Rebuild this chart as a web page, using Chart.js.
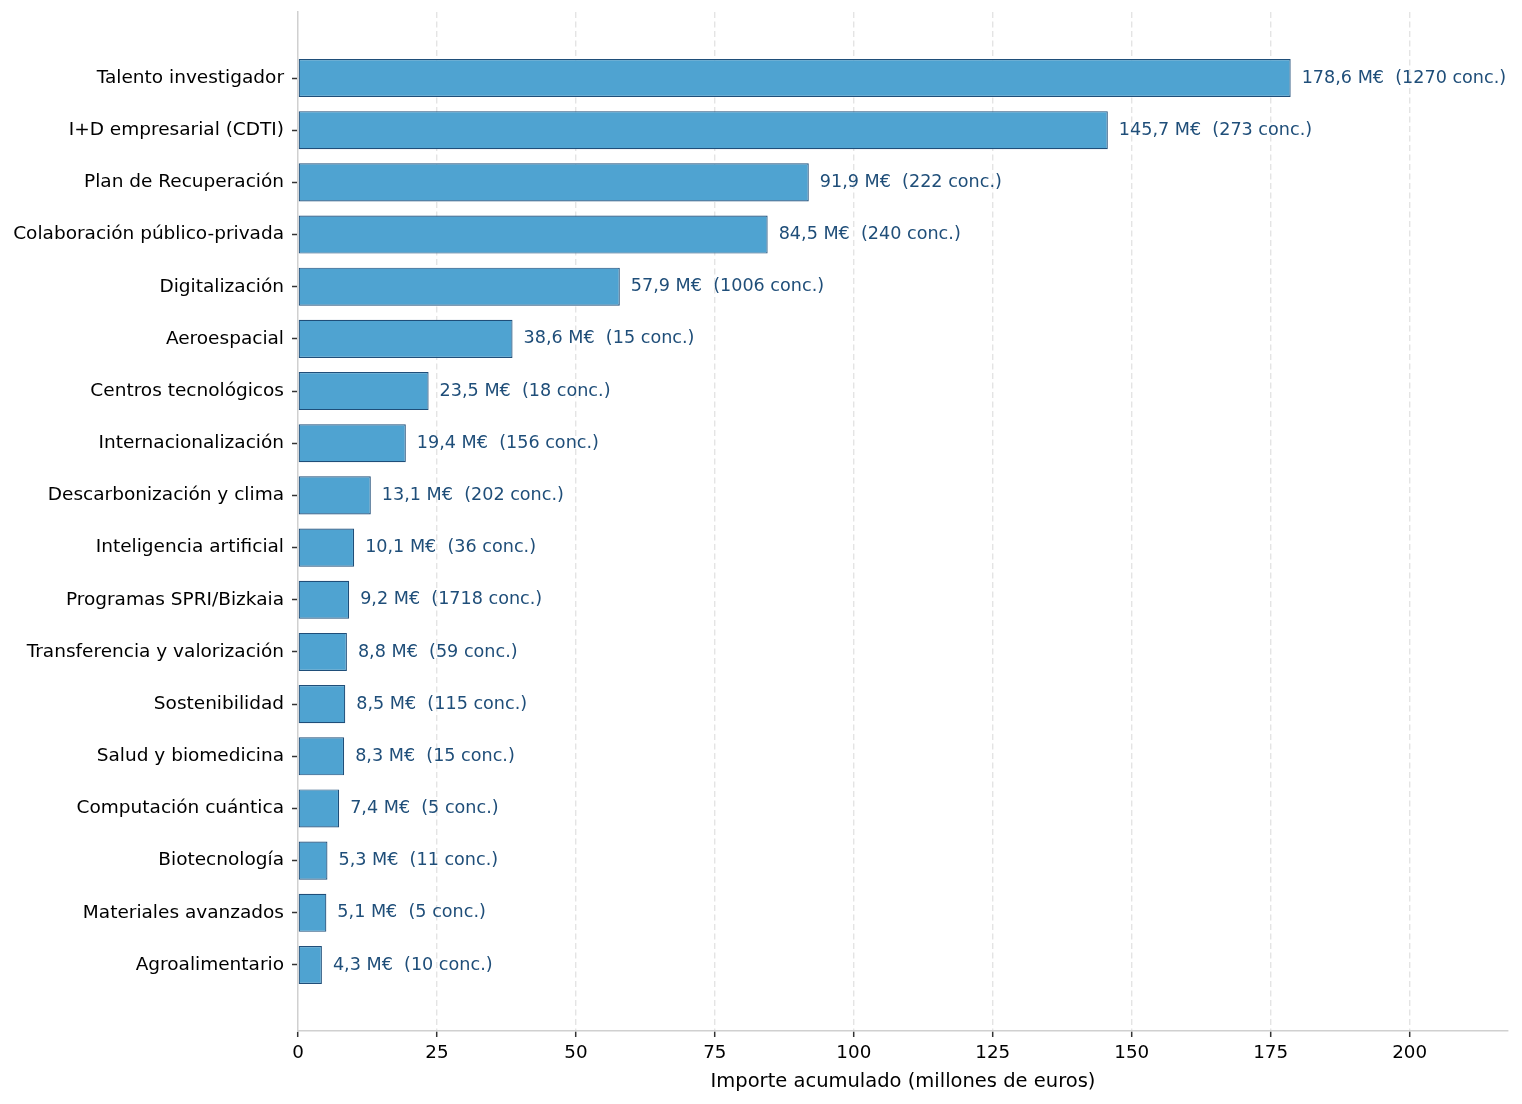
<!DOCTYPE html>
<html>
<head>
<meta charset="utf-8">
<script src="https://cdn.jsdelivr.net/npm/chart.js@4/dist/chart.umd.min.js"></script>
<style>
html,body{margin:0;padding:0;background:#fff;}
#c{display:block;}
</style>
</head>
<body>
<canvas id="c" width="1522" height="1104"></canvas>
<script>
const categories = [
  "Talento investigador",
  "I+D empresarial (CDTI)",
  "Plan de Recuperación",
  "Colaboración público-privada",
  "Digitalización",
  "Aeroespacial",
  "Centros tecnológicos",
  "Internacionalización",
  "Descarbonización y clima",
  "Inteligencia artificial",
  "Programas SPRI/Bizkaia",
  "Transferencia y valorización",
  "Sostenibilidad",
  "Salud y biomedicina",
  "Computación cuántica",
  "Biotecnología",
  "Materiales avanzados",
  "Agroalimentario"
];
const amounts = [178.6, 145.7, 91.9, 84.5, 57.9, 38.6, 23.5, 19.4, 13.1, 10.1, 9.2, 8.8, 8.5, 8.3, 7.4, 5.3, 5.1, 4.3];
const concessions = [1270, 273, 222, 240, 1006, 15, 18, 156, 202, 36, 1718, 59, 115, 15, 5, 11, 5, 10];
const xTicks = [0, 25, 50, 75, 100, 125, 150, 175, 200];
const xTitle = "Importe acumulado (millones de euros)";

const FONT = "'DejaVu Sans', sans-serif";

const labelPlugin = {
  id: 'barLabels',
  afterDatasetsDraw(chart) {
    const ctx = chart.ctx;
    const meta = chart.getDatasetMeta(0);
    ctx.save();
    ctx.font = "17.6px " + FONT;
    ctx.fillStyle = "#1f4e79";
    ctx.textAlign = "left";
    ctx.textBaseline = "middle";
    meta.data.forEach((bar, i) => {
      const txt = amounts[i].toFixed(1).replace('.', ',') + " M€  (" + concessions[i] + " conc.)";
      ctx.fillText(txt, bar.x + 11, bar.y);
    });
    ctx.restore();
  }
};

new Chart(document.getElementById('c'), {
  type: 'bar',
  data: {
    datasets: [{
      data: amounts.map((v, i) => ({ x: v, y: i })),
      backgroundColor: '#4fa3d1',
      borderColor: '#1f4e79',
      borderWidth: 1.2,
      borderSkipped: false,
      barPercentage: 0.73,
      categoryPercentage: 1
    }]
  },
  options: {
    indexAxis: 'y',
    responsive: false,
    animation: false,
    devicePixelRatio: 1,
    layout: { padding: { top: 12, right: 14, left: 0, bottom: 10 } },
    plugins: { legend: { display: false }, tooltip: { enabled: false } },
    scales: {
      x: {
        type: 'linear',
        min: 0,
        max: 217.7,
        afterBuildTicks(scale) { scale.ticks = xTicks.map(v => ({ value: v })); },
        afterFit(scale) { scale.height = 63; scale.paddingLeft = 0; scale.paddingRight = 0; },
        ticks: { font: { family: FONT, size: 18.3 }, color: '#000', padding: 5, maxRotation: 0 },
        grid: {
          color: ctx => (ctx.tick && ctx.tick.value === 0) ? 'rgba(0,0,0,0)' : '#e4e4e4',
          lineWidth: 1.4,
          tickColor: '#333',
          tickWidth: 1.5,
          tickLength: 6,
          drawTicks: true
        },
        border: { display: true, color: '#d0d0d0', width: 1.5, dash: [6, 3.5] },
        title: { display: true, text: xTitle, font: { family: FONT, size: 19.5 }, color: '#000', padding: { top: 0, bottom: 0 } }
      },
      y: {
        type: 'linear',
        reverse: true,
        offset: false,
        min: -1.265,
        max: 18.265,
        afterBuildTicks(scale) { scale.ticks = categories.map((_, i) => ({ value: i })); },
        afterFit(scale) { scale.width = 298; scale.paddingTop = 0; scale.paddingBottom = 0; },
        ticks: {
          font: { family: FONT, size: 18.5 },
          color: '#000',
          padding: 8,
          callback: v => categories[v]
        },
        grid: { offset: false, drawOnChartArea: false, tickColor: '#333', tickWidth: 1.5, tickLength: 6 },
        border: { display: true, color: '#d0d0d0', width: 1.5 }
      }
    }
  },
  plugins: [labelPlugin]
});
</script>
</body>
</html>
